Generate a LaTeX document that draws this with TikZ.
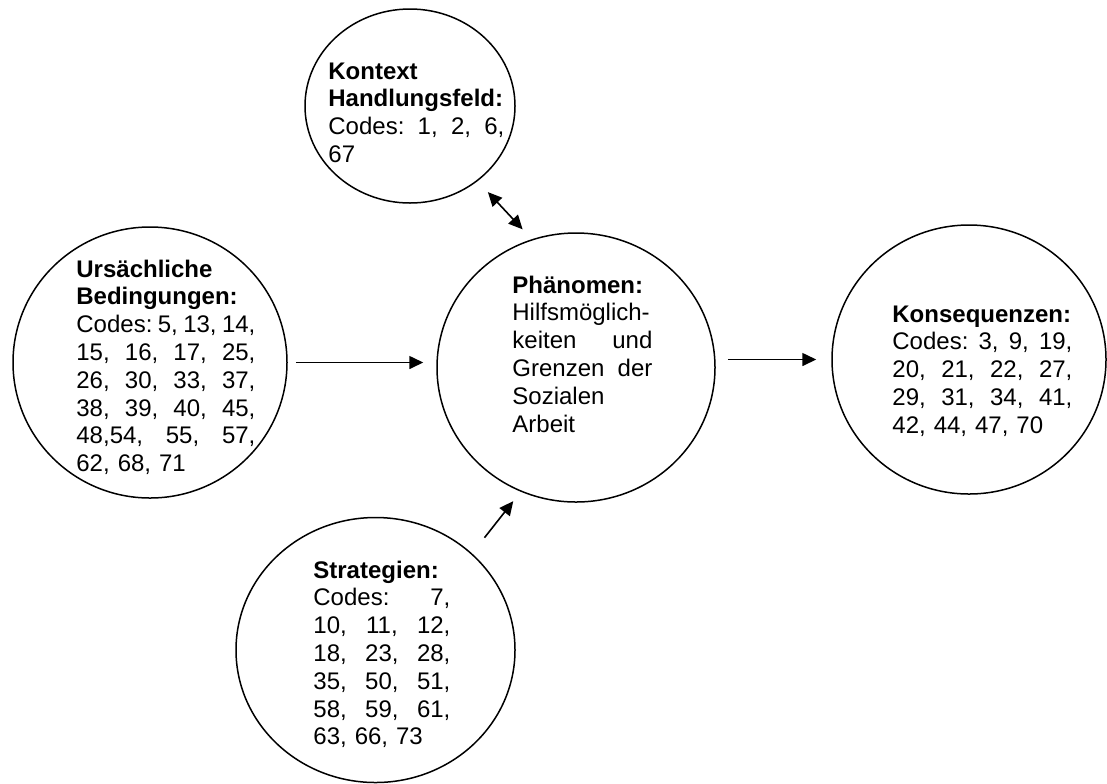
\documentclass[tikz,border=0pt]{standalone}
\usepackage{fontspec}
\setmainfont{Liberation Sans}
\usetikzlibrary{arrows.meta,shapes.geometric,calc}
\newlength{\colw}
\newcommand{\jl}[1]{\makebox[\colw][s]{\spaceskip=.278em plus 1fil minus .1em\relax #1}\\}
\tikzset{
  ring/.style={ellipse, draw=black, line width=0.75pt, inner sep=0pt},
  codes/.style={inner sep=0pt, anchor=base west, align=left,
                font=\fontsize{12}{13.9}\selectfont\frenchspacing},
  col/.style={text width=#1, execute at begin node={\setlength{\colw}{#1}}},
  flow/.style={-{Triangle[length=7pt,width=6.5pt]}, line width=0.8pt},
  both/.style={{Triangle[length=7pt,width=6.5pt]}-{Triangle[length=7pt,width=6.5pt]}, line width=0.8pt},
}
\begin{document}
\begin{tikzpicture}[x=0.5pt,y=-0.5pt]
  \useasboundingbox (0,0) rectangle (1107,783);
  % circles
  \node[ring, minimum width=105pt, minimum height=97pt] (kontext) at (410,106) {};
  \node[ring, minimum width=137pt, minimum height=135.5pt] (urs) at (150,362.5) {};
  \node[ring, minimum width=139pt, minimum height=134.5pt] (phaen) at (576,367.5) {};
  \node[ring, minimum width=137pt, minimum height=134.5pt] (kons) at (969,359.5) {};
  \node[ring, minimum width=139.5pt, minimum height=132.5pt] (strat) at (375.5,650) {};

  % texts
  \node[codes, col=88pt] (kontexttext) at (328,79) {%
    \textbf{Kontext}\\
    \textbf{Handlungsfeld:}\\
    \jl{Codes: 1, 2, 6,}
    67};
  \node[codes, col=89.5pt] (urstext) at (76,277) {%
    \textbf{Ursächliche}\\
    \textbf{Bedingungen:}\\
    \jl{Codes: 5, 13, 14,}
    \jl{15, 16, 17, 25,}
    \jl{26, 30, 33, 37,}
    \jl{38, 39, 40, 45,}
    \jl{48,54, 55, 57,}
    62, 68, 71};
  \node[codes, col=70pt] (phaentext) at (512,293) {%
    \textbf{Phänomen:}\\
    Hilfsmöglich-\\
    \jl{keiten und}
    \jl{Grenzen der}
    Sozialen\\
    Arbeit};
  \node[codes, col=90pt] (konstext) at (892,322) {%
    \textbf{Konsequenzen:}\\
    \jl{Codes: 3, 9, 19,}
    \jl{20, 21, 22, 27,}
    \jl{29, 31, 34, 41,}
    42, 44, 47, 70};
  \node[codes, col=68.5pt] (strattext) at (313,578) {%
    \textbf{Strategien:}\\
    \jl{Codes: 7,}
    \jl{10, 11, 12,}
    \jl{18, 23, 28,}
    \jl{35, 50, 51,}
    \jl{58, 59, 61,}
    63, 66, 73};

  % arrows
  \draw[both, shorten <=7.5pt, shorten >=6.75pt] (kontext.-48) -- (phaen.109);
  \draw[flow, shorten <=4pt, shorten >=6.5pt] (urs.east) -- (urs.east -| phaen.west);
  \draw[flow, shorten <=6pt, shorten >=7.5pt] (kons.west -| phaen.east) -- (kons.west);
  \draw[flow, shorten <=10pt, shorten >=6pt] (strat.45) -- (phaen.246);
\end{tikzpicture}
\end{document}
